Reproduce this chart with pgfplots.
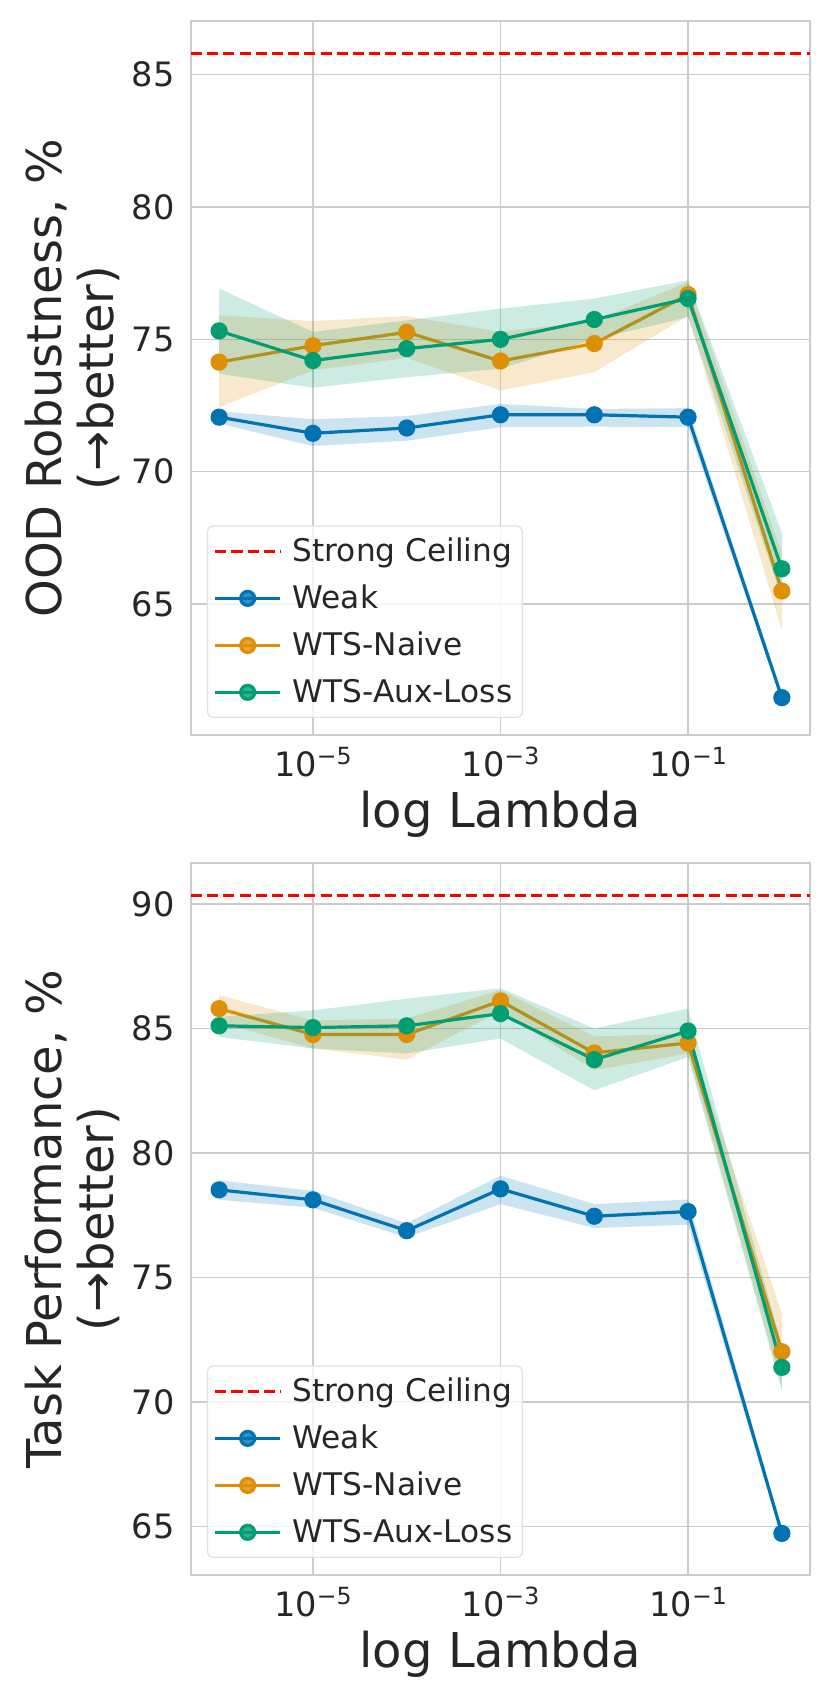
\documentclass[border=0pt]{standalone}
\usepackage{fontspec}
\setmainfont{DejaVu Sans}
\usepackage{graphicx}
\usepackage{pgfplots}
\usepackage{pgfplotstable}
\pgfplotsset{compat=1.18}
\definecolor{cweak}{HTML}{0173B2}
\definecolor{cnaive}{HTML}{DE8F05}
\definecolor{caux}{HTML}{029E73}
\definecolor{gridgray}{HTML}{CCCCCC}
\definecolor{textgray}{HTML}{262626}
\newcommand{\tsup}[1]{\raisebox{6.2pt}{\fontsize{11.8}{12}\selectfont #1}}
\newcommand{\tickfont}{\fontsize{16.8}{20}\selectfont}
\newcommand{\labfont}{\fontsize{24}{28}\selectfont}
\newcommand{\legfont}{\fontsize{15.6}{18}\selectfont}

\pgfplotstableread{
x wm nm am
1e-6 72.06 74.14 75.32
1e-5 71.45 74.76 74.20
1e-4 71.65 75.27 74.65
1e-3 72.15 74.18 75.00
1e-2 72.15 74.84 75.75
1e-1 72.06 76.69 76.54
1    61.46 65.49 66.33
}\toptab

\pgfplotstableread{
x wm nm am
1e-6 78.52 85.80 85.11
1e-5 78.12 84.76 85.04
1e-4 76.88 84.76 85.11
1e-3 78.56 86.11 85.60
1e-2 77.46 84.02 83.75
1e-1 77.65 84.42 84.90
1    64.72 72.02 71.39
}\bottab

\begin{document}
\begin{tikzpicture}
\path[use as bounding box] (0,0) rectangle (415.5pt,852pt);

% ---------- top panel ----------
\begin{axis}[at={(95.5pt,484.5pt)}, anchor=south west,
  xmode=log, scale only axis, width=309.5pt, height=357pt,
  xmin=5.0119e-7, xmax=1.99526,
  ymin=60.05, ymax=87.03, ytick={65,70,75,80,85},
  xtick={1e-5,1e-3,1e-1},
  xticklabels={10\tsup{−5},10\tsup{−3},10\tsup{−1}},
  minor xtick={},
  xmajorgrids, ymajorgrids,
  grid style={color=gridgray, line width=0.6pt},
  axis line style={color=gridgray, line width=0.6pt},
  major tick length=0pt,
  /pgf/number format/assume math mode=true,
  tick label style={font=\tickfont, color=textgray},
  yticklabel style={anchor=east, inner sep=0pt, xshift=-8pt},
  xticklabel style={anchor=north, inner sep=0pt, yshift=-5.8pt},
  xlabel={log Lambda},
  xlabel style={at={(axis description cs:0.5,0)}, anchor=base, inner sep=0pt, yshift=-46.2pt, font=\labfont, color=textgray},
  legend cell align=left,
  legend image code/.code={\draw[mark repeat=2,mark phase=2] plot coordinates {(0pt,0pt) (16.25pt,0pt) (32.5pt,0pt)}; \path (36pt,0pt);},
  legend style={at={(0.0258,0.0238)}, anchor=south west,
    draw=black!12, line width=0.6pt, fill=white, fill opacity=0.8, text opacity=1,
    rounded corners=3pt, font=\legfont, text=textgray,
    inner xsep=3pt, inner ysep=4pt, row sep=6.2pt},
]
\addplot[color=red, line width=1.5pt, dash pattern=on 5.5pt off 2.6pt] coordinates {(5.0119e-7,85.81) (1.99526,85.81)};
\addlegendentry{Strong Ceiling}
\addplot[fill=cweak, fill opacity=0.2, draw=none, forget plot] coordinates {(1e-6,72.28) (1e-5,71.98) (1e-4,72.10) (1e-3,72.56) (1e-2,72.37) (1e-1,72.40) (1,61.62)
  (1,61.30) (1e-1,71.68) (1e-2,71.70) (1e-3,71.68) (1e-4,71.17) (1e-5,70.97) (1e-6,71.82)} --cycle;
\addplot[color=cweak, line width=1.6pt, mark=*, mark size=3.5pt, mark options={solid, fill=cweak, draw=none}] table[x=x,y=wm]{\toptab};
\addlegendentry{Weak}
\addplot[fill=cnaive, fill opacity=0.2, draw=none, forget plot] coordinates {(1e-6,75.91) (1e-5,75.69) (1e-4,75.88) (1e-3,75.28) (1e-2,75.70) (1e-1,77.17) (1,66.90)
  (1,64.00) (1e-1,75.90) (1e-2,73.76) (1e-3,73.07) (1e-4,74.30) (1e-5,73.83) (1e-6,72.44)} --cycle;
\addplot[color=cnaive, line width=1.6pt, mark=*, mark size=3.5pt, mark options={solid, fill=cnaive, draw=none}] table[x=x,y=nm]{\toptab};
\addlegendentry{WTS-Naive}
\addplot[fill=caux, fill opacity=0.2, draw=none, forget plot] coordinates {(1e-6,76.92) (1e-5,75.28) (1e-4,75.72) (1e-3,76.16) (1e-2,76.54) (1e-1,77.23) (1,67.68)
  (1,65.20) (1e-1,75.84) (1e-2,75.00) (1e-3,73.89) (1e-4,73.57) (1e-5,73.17) (1e-6,73.70)} --cycle;
\addplot[color=caux, line width=1.6pt, mark=*, mark size=3.5pt, mark options={solid, fill=caux, draw=none}] table[x=x,y=am]{\toptab};
\addlegendentry{WTS-Aux-Loss}
\end{axis}

% ---------- bottom panel ----------
\begin{axis}[at={(95.5pt,64.5pt)}, anchor=south west,
  xmode=log, scale only axis, width=309.5pt, height=356pt,
  xmin=5.0119e-7, xmax=1.99526,
  ymin=63.05, ymax=91.65, ytick={65,70,75,80,85,90},
  xtick={1e-5,1e-3,1e-1},
  xticklabels={10\tsup{−5},10\tsup{−3},10\tsup{−1}},
  minor xtick={},
  xmajorgrids, ymajorgrids,
  grid style={color=gridgray, line width=0.6pt},
  axis line style={color=gridgray, line width=0.6pt},
  major tick length=0pt,
  /pgf/number format/assume math mode=true,
  tick label style={font=\tickfont, color=textgray},
  yticklabel style={anchor=east, inner sep=0pt, xshift=-8pt},
  xticklabel style={anchor=north, inner sep=0pt, yshift=-5.8pt},
  xlabel={log Lambda},
  xlabel style={at={(axis description cs:0.5,0)}, anchor=base, inner sep=0pt, yshift=-46.2pt, font=\labfont, color=textgray},
  legend cell align=left,
  legend image code/.code={\draw[mark repeat=2,mark phase=2] plot coordinates {(0pt,0pt) (16.25pt,0pt) (32.5pt,0pt)}; \path (36pt,0pt);},
  legend style={at={(0.0258,0.0239)}, anchor=south west,
    draw=black!12, line width=0.6pt, fill=white, fill opacity=0.8, text opacity=1,
    rounded corners=3pt, font=\legfont, text=textgray,
    inner xsep=3pt, inner ysep=4pt, row sep=6.2pt},
]
\addplot[color=red, line width=1.5pt, dash pattern=on 5.5pt off 2.6pt] coordinates {(5.0119e-7,90.36) (1.99526,90.36)};
\addlegendentry{Strong Ceiling}
\addplot[fill=cweak, fill opacity=0.2, draw=none, forget plot] coordinates {(1e-6,78.90) (1e-5,78.48) (1e-4,77.18) (1e-3,79.09) (1e-2,77.95) (1e-1,78.13) (1,64.90)
  (1,64.55) (1e-1,77.12) (1e-2,76.99) (1e-3,77.95) (1e-4,76.61) (1e-5,77.80) (1e-6,78.12)} --cycle;
\addplot[color=cweak, line width=1.6pt, mark=*, mark size=3.5pt, mark options={solid, fill=cweak, draw=none}] table[x=x,y=wm]{\bottab};
\addlegendentry{Weak}
\addplot[fill=cnaive, fill opacity=0.2, draw=none, forget plot] coordinates {(1e-6,86.34) (1e-5,85.33) (1e-4,85.40) (1e-3,86.55) (1e-2,84.68) (1e-1,84.80) (1,73.55)
  (1,70.60) (1e-1,84.00) (1e-2,83.33) (1e-3,85.70) (1e-4,83.75) (1e-5,84.20) (1e-6,85.25)} --cycle;
\addplot[color=cnaive, line width=1.6pt, mark=*, mark size=3.5pt, mark options={solid, fill=cnaive, draw=none}] table[x=x,y=nm]{\bottab};
\addlegendentry{WTS-Naive}
\addplot[fill=caux, fill opacity=0.2, draw=none, forget plot] coordinates {(1e-6,85.47) (1e-5,85.73) (1e-4,86.20) (1e-3,86.62) (1e-2,85.00) (1e-1,85.80) (1,72.30)
  (1,70.45) (1e-1,83.86) (1e-2,82.52) (1e-3,84.60) (1e-4,84.00) (1e-5,84.20) (1e-6,84.66)} --cycle;
\addplot[color=caux, line width=1.6pt, mark=*, mark size=3.5pt, mark options={solid, fill=caux, draw=none}] table[x=x,y=am]{\bottab};
\addlegendentry{WTS-Aux-Loss}
\end{axis}

% ---------- y labels ----------
\begin{scope}[every node/.style={rotate=90, anchor=base, inner sep=0pt, font=\labfont, text=textgray}]
\node at (30.8pt,663pt) {OOD Robustness, \%};
\node at (56.7pt,663pt) {(→better)};
\node at (30.8pt,242.5pt) {Task Performance, \%};
\node at (56.7pt,242.5pt) {(→better)};
\end{scope}
\end{tikzpicture}
\end{document}
